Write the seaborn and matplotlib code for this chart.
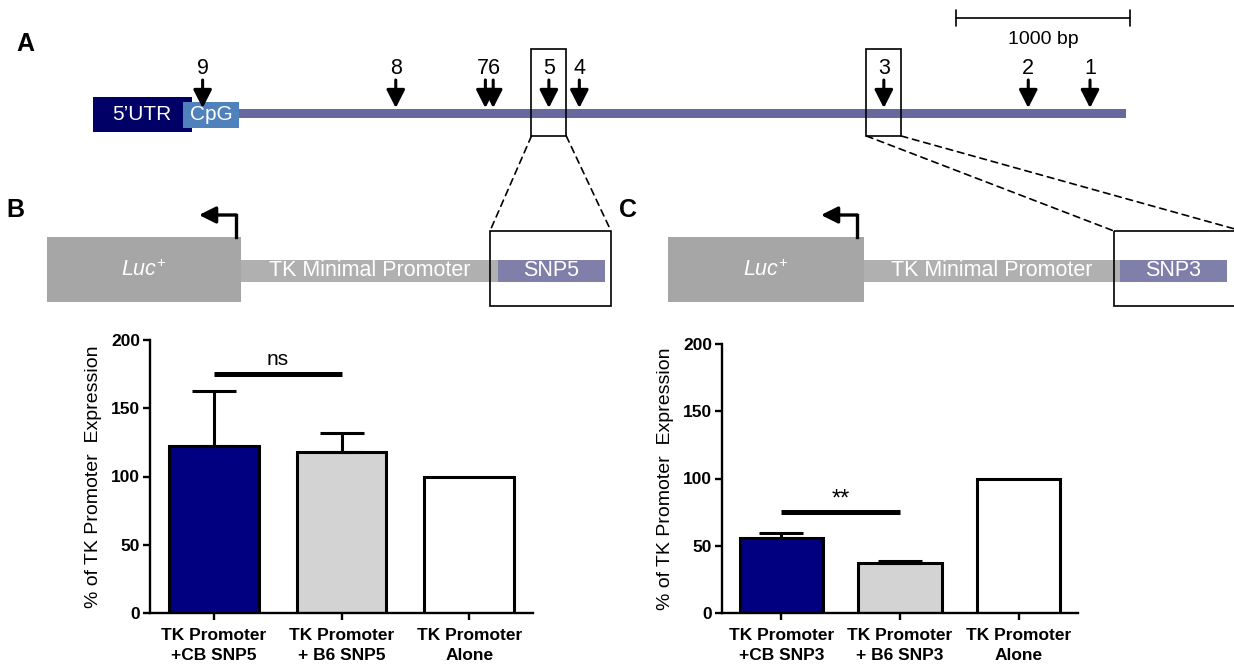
import numpy as np
import pandas as pd
import matplotlib
matplotlib.use("Agg")
import matplotlib.pyplot as plt
from matplotlib.patches import Rectangle, ConnectionPatch
import seaborn as sns

# ---------------------------------------------------------------- data
# Gene map, positions in bp from the start of the 5'UTR
utr_span = [0, 569]
cpg_span = [517, 839]
gene_end = 5935
snp_ids = ["9", "8", "7", "6", "5", "4", "3", "2", "1"]
snp_pos = [630, 1740, 2255, 2300, 2620, 2795, 4545, 5375, 5730]
snp_label_groups = [["9"], ["8"], ["7", "6"], ["5"], ["4"], ["3"], ["2"], ["1"]]
tested_snps = ["5", "3"]
scale_bar = [4960, 5960]
scale_label = "1000 bp"

# Luciferase reporter assay (% of TK promoter alone, mean and SEM)
conditions_b = ["TK Promoter\n+CB SNP5", "TK Promoter\n+ B6 SNP5", "TK Promoter\nAlone"]
means_b = [122, 118, 100]
sem_b = [40.5, 14, 0]
conditions_c = ["TK Promoter\n+CB SNP3", "TK Promoter\n+ B6 SNP3", "TK Promoter\nAlone"]
means_c = [56, 37.5, 100]
sem_c = [3.2, 1.2, 0]
bar_colors = ["#000080", "#d3d3d3", "#ffffff"]
sig_b, bracket_b = "ns", 175
sig_c, bracket_c = "**", 75
y_label = "% of TK Promoter  Expression"

# ---------------------------------------------------------------- style
sns.set_theme(style="ticks")
plt.rcParams["font.family"] = ["Liberation Sans", "DejaVu Sans"]
plt.rcParams["mathtext.fontset"] = "custom"
plt.rcParams["mathtext.rm"] = "Liberation Sans"
plt.rcParams["mathtext.it"] = "Liberation Sans:italic"
plt.rcParams["text.color"] = "black"
plt.rcParams["axes.labelcolor"] = "black"

W, H = 1234, 668
fig = plt.figure(figsize=(W / 100, H / 100), dpi=100)
fig.patch.set_facecolor("white")

# overlay in pixel units for the schematic constructs
ax_o = fig.add_axes([0, 0, 1, 1])
ax_o.set_xlim(0, W)
ax_o.set_ylim(H, 0)
ax_o.axis("off")

# gene map axes: x in bp, y in pixel units
px_per_bp = 174 / 1000.0
origin_px = 93
ax_a = fig.add_axes([0, 0, 1, 1])
ax_a.set_xlim(-origin_px / px_per_bp, (W - origin_px) / px_per_bp)
ax_a.set_ylim(H, 0)
ax_a.axis("off")

# ---------------------------------------------------------------- panel A
ax_a.add_patch(Rectangle((cpg_span[1], 109), gene_end - cpg_span[1], 9,
                         facecolor="#68689e", lw=0))
ax_a.add_patch(Rectangle((utr_span[0], 97), utr_span[1] - utr_span[0], 35,
                         facecolor="#000066", lw=0))
ax_a.add_patch(Rectangle((cpg_span[0], 102), cpg_span[1] - cpg_span[0], 26,
                         facecolor="#4f81bd", lw=0))
ax_a.text((utr_span[0] + cpg_span[0]) / 2 + 20, 115, "5\u2019UTR", color="white",
          fontsize=15, ha="center", va="center")
ax_a.text(sum(cpg_span) / 2, 115, "CpG", color="white",
          fontsize=15, ha="center", va="center")

pos_by_id = dict(zip(snp_ids, snp_pos))
for p in snp_pos:
    ax_a.annotate("", xy=(p, 108), xytext=(p, 80),
                  arrowprops=dict(arrowstyle="-|>,head_length=0.55,head_width=0.28",
                                  mutation_scale=20, lw=2.2, color="black",
                                  shrinkA=0, shrinkB=0))
for grp in snp_label_groups:
    x = np.mean([pos_by_id[s] for s in grp])
    ax_a.text(x, 68, "".join(grp), fontsize=15.5, ha="center", va="center")

box_half = 100
for s in tested_snps:
    ax_a.add_patch(Rectangle((pos_by_id[s] - box_half, 49), 2 * box_half, 87,
                             fill=False, ec="black", lw=1.2))

ax_a.plot(scale_bar, [18, 18], color="black", lw=1.2)
for xb in scale_bar:
    ax_a.plot([xb, xb], [10, 26], color="black", lw=1.2)
ax_a.text(sum(scale_bar) / 2, 40, scale_label, fontsize=14, ha="center", va="center")

# ---------------------------------------------------------------- constructs B / C
def draw_construct(ax, luc, arrow_x, arrow_end, bar_end, snp_start, frame, snp_name):
    ax.add_patch(Rectangle((luc[0], 237), luc[1] - luc[0], 65, facecolor="#a6a6a6", lw=0))
    ax.add_patch(Rectangle((luc[1], 260), bar_end - luc[1], 22, facecolor="#b0b0b0", lw=0))
    ax.add_patch(Rectangle((snp_start, 260), bar_end - snp_start, 22,
                           facecolor="#7f7faa", lw=0))
    ax.add_patch(Rectangle((frame[0], 231), frame[1] - frame[0], 75,
                           fill=False, ec="black", lw=1.2))
    ax.plot([arrow_x, arrow_x], [237, 215], color="black", lw=2.4,
            solid_capstyle="projecting")
    ax.annotate("", xy=(arrow_end, 215), xytext=(arrow_x, 215),
                arrowprops=dict(arrowstyle="-|>,head_length=0.5,head_width=0.25",
                                mutation_scale=20, lw=2.4, color="black",
                                shrinkA=0, shrinkB=0))
    ax.text(sum(luc) / 2, 270, r"$\mathit{Luc}^{+}$", color="white",
            fontsize=15.5, ha="center", va="center")
    ax.text((luc[1] + snp_start) / 2, 271, "TK Minimal Promoter", color="white",
            fontsize=15.5, ha="center", va="center")
    ax.text((snp_start + bar_end) / 2, 271, snp_name, color="white",
            fontsize=15.5, ha="center", va="center")


draw_construct(ax_o, (47, 241), 236, 199, 605, 498, (490, 611), "SNP5")
draw_construct(ax_o, (668, 864), 857, 821, 1227, 1120, (1114, 1242), "SNP3")

# zoom lines from the map boxes to the construct frames
frames = {"5": (490, 611), "3": (1114, 1242)}
for s in tested_snps:
    for side, fx in zip((-1, 1), frames[s]):
        con = ConnectionPatch(xyA=(pos_by_id[s] + side * box_half, 136), coordsA=ax_a.transData,
                              xyB=(fx, 231), coordsB=ax_o.transData,
                              ls=(0, (4, 3)), lw=1.2, color="black")
        fig.add_artist(con)

for letter, (x, y) in zip("ABC", [(25, 44), (15, 210), (628, 210)]):
    ax_o.text(x, y, letter, fontsize=18, fontweight="bold", ha="center", va="center")

# ---------------------------------------------------------------- bar charts
def bar_panel(rect, conds, means, errs, sig, bracket_y, ylabel_x):
    ax = fig.add_axes(rect)
    df = pd.DataFrame({"condition": conds, "value": means})
    sns.barplot(data=df, x="condition", y="value", hue="condition",
                palette=bar_colors, saturation=1, edgecolor="black", linewidth=2.2,
                width=0.7, errorbar=None, legend=False, ax=ax, zorder=2)
    idx = [i for i, e in enumerate(errs) if e > 0]
    ax.errorbar(idx, [means[i] for i in idx],
                yerr=[[0] * len(idx), [errs[i] for i in idx]], fmt="none",
                ecolor="black", elinewidth=2.2, capsize=16, capthick=2.2, zorder=3)
    ax.plot([0, 1], [bracket_y, bracket_y], color="black", lw=3.6,
            solid_capstyle="butt", zorder=3)
    if sig == "ns":
        ax.text(0.5, bracket_y + 4, sig, fontsize=15, ha="center", va="bottom")
    else:
        ax.text(0.5, bracket_y + 1, sig, fontsize=17, ha="center", va="bottom")
    ax.set_xlim(-0.5, 2.5)
    ax.set_ylim(0, 200)
    ax.set_yticks(range(0, 201, 50))
    ax.set_xlabel("")
    ax.set_ylabel(y_label, fontsize=14, color="black")
    ax.yaxis.set_label_coords(ylabel_x, 0.5)
    sns.despine(ax=ax)
    for sp in ("left", "bottom"):
        ax.spines[sp].set_linewidth(1.7)
        ax.spines[sp].set_color("black")
    ax.tick_params(axis="both", width=1.7, length=5, color="black",
                   labelsize=12.5, labelcolor="black")
    ax.tick_params(axis="x", pad=6)
    ax.tick_params(axis="y", pad=2)
    for lbl in ax.get_xticklabels():
        lbl.set_fontweight("bold")
        lbl.set_linespacing(1.4)
    for lbl in ax.get_yticklabels():
        lbl.set_fontweight("bold")
    ax.set_facecolor("none")
    return ax


bar_panel([150 / W, 55 / H, 383 / W, 273 / H], conditions_b, means_b, sem_b,
          sig_b, bracket_b, -0.125)
bar_panel([722 / W, 55 / H, 356 / W, 269 / H], conditions_c, means_c, sem_c,
          sig_c, bracket_c, -0.135)

fig.savefig("out.png", dpi=100)
